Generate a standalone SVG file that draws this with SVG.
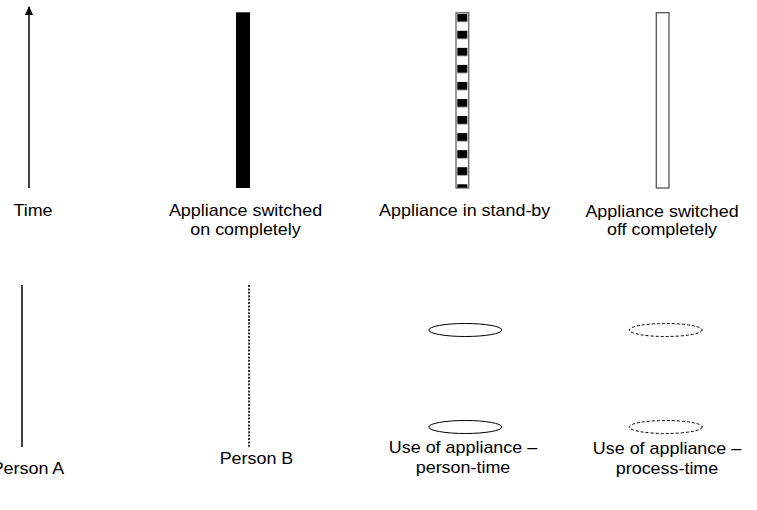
<svg xmlns="http://www.w3.org/2000/svg" width="757" height="510" viewBox="0 0 757 510">
<style>
text{font-family:"Liberation Sans",Arial,sans-serif;font-size:16px;fill:#000;text-anchor:middle}
.ln{stroke:#000;stroke-width:1.5;fill:none}
.ell{fill:none;stroke:#000;stroke-width:1}
.dash{stroke-dasharray:3 2}
</style>
<defs>
<marker id="ah" markerWidth="10" markerHeight="10" refX="8" refY="4" orient="auto" markerUnits="userSpaceOnUse">
<path d="M0,0 L9,4 L0,8 Z" fill="#000"/>
</marker>
<pattern id="sb" x="0" y="13.7" width="14" height="17.06" patternUnits="userSpaceOnUse">
<rect x="0" y="0" width="14" height="8" fill="#000"/>
</pattern>
</defs>
<rect width="757" height="510" fill="#fff"/>
<g id="time">
<line class="ln" x1="29" y1="188" x2="29" y2="7" marker-end="url(#ah)"/>
<text transform="translate(33,215.5) scale(1.12,1)">Time</text>
</g>
<g id="switched-on">
<rect x="236" y="12.3" width="14" height="175.7" fill="#000"/>
<text transform="translate(245.5,216) scale(1.12,1)">Appliance switched</text>
<text transform="translate(245.5,235) scale(1.12,1)">on completely</text>
</g>
<g id="standby">
<rect x="456" y="12.7" width="12.7" height="175.3" fill="#fff" stroke="#666" stroke-width="1.3"/>
<rect x="457.3" y="13.7" width="10" height="174" fill="url(#sb)"/>
<text transform="translate(464.7,215.5) scale(1.12,1)">Appliance in stand-by</text>
</g>
<g id="switched-off">
<rect x="656.3" y="12.7" width="12.7" height="175.3" fill="#fff" stroke="#555" stroke-width="1.3"/>
<text transform="translate(662,216.5) scale(1.12,1)">Appliance switched</text>
<text transform="translate(662,235) scale(1.12,1)">off completely</text>
</g>
<g id="person-a">
<line class="ln" x1="22" y1="285" x2="22" y2="447"/>
<text transform="translate(28,473.5) scale(1.12,1)">Person A</text>
</g>
<g id="person-b">
<line x1="249" y1="285" x2="249" y2="447" stroke="#000" stroke-width="1.6" stroke-dasharray="2 1.4"/>
<text transform="translate(256.5,463.5) scale(1.12,1)">Person B</text>
</g>
<g id="person-time">
<ellipse class="ell" cx="465.3" cy="330" rx="36.5" ry="6.5"/>
<ellipse class="ell" cx="465.3" cy="427" rx="36.5" ry="6.5"/>
<text transform="translate(463,452.5) scale(1.12,1)">Use of appliance –</text>
<text transform="translate(463,472.5) scale(1.12,1)">person-time</text>
</g>
<g id="process-time">
<ellipse class="ell dash" cx="665.7" cy="330" rx="36.5" ry="6.5"/>
<ellipse class="ell dash" cx="665.7" cy="427" rx="36.5" ry="6.5"/>
<text transform="translate(667,453.5) scale(1.12,1)">Use of appliance –</text>
<text transform="translate(667,474) scale(1.12,1)">process-time</text>
</g>
<g id="connectors"></g>
</svg>
